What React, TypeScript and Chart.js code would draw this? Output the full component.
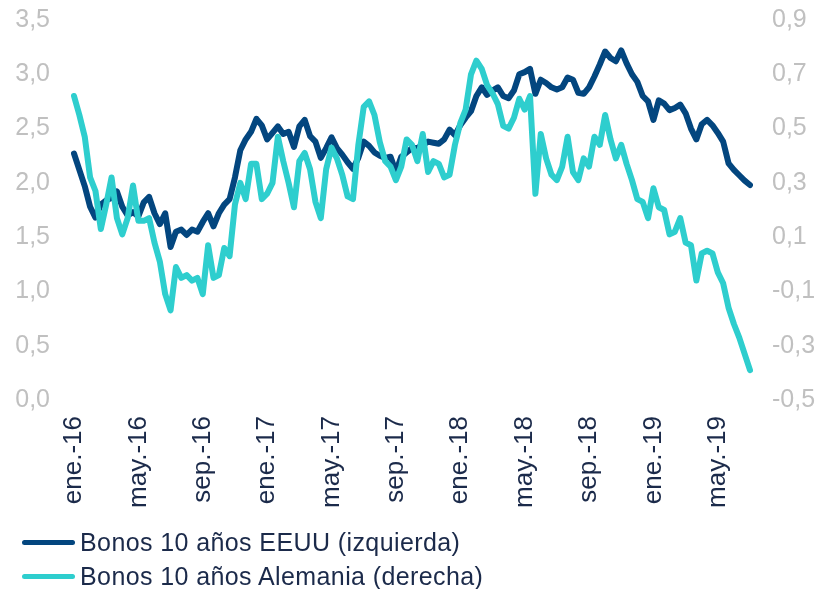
import React, { useEffect, useRef } from "react";
import { Chart, registerables } from "chart.js";

Chart.register(...registerables);

const monthNames = ["ene.", "feb.", "mar.", "abr.", "may.", "jun.", "jul.", "ago.", "sep.", "oct.", "nov.", "dic."];
const startYear = 16;
const pointsPerMonth = 3;
const tickEvery = 12; // every 4 months

const usYield = [
  2.27, 2.12, 1.97, 1.78, 1.68, 1.80, 1.84, 1.86, 1.92, 1.78,
  1.70, 1.73, 1.69, 1.82, 1.87, 1.72, 1.62, 1.72, 1.41, 1.55,
  1.57, 1.52, 1.57, 1.55, 1.64, 1.72, 1.60, 1.72, 1.80, 1.85,
  2.05, 2.30, 2.40, 2.47, 2.59, 2.53, 2.40, 2.46, 2.52, 2.45,
  2.47, 2.33, 2.52, 2.58, 2.43, 2.38, 2.23, 2.32, 2.42, 2.32,
  2.26, 2.19, 2.13, 2.23, 2.38, 2.34, 2.28, 2.25, 2.23, 2.24,
  2.10, 2.24, 2.28, 2.32, 2.32, 2.35, 2.38, 2.37, 2.36, 2.40,
  2.49, 2.44, 2.53, 2.60, 2.66, 2.80, 2.88, 2.81, 2.85, 2.88,
  2.80, 2.78, 2.85, 3.00, 3.02, 3.05, 2.82, 2.95, 2.92, 2.88,
  2.86, 2.88, 2.97, 2.95, 2.83, 2.82, 2.88, 2.98, 3.09, 3.21,
  3.15, 3.12, 3.22, 3.10, 3.00, 2.93, 2.80, 2.75, 2.58, 2.76,
  2.73, 2.67, 2.69, 2.72, 2.64, 2.50, 2.40, 2.54, 2.58, 2.53,
  2.46, 2.38, 2.18, 2.12, 2.07, 2.02, 1.98,
];

const deYield = [
  0.62, 0.55, 0.47, 0.32, 0.27, 0.13, 0.22, 0.32, 0.17, 0.11,
  0.17, 0.29, 0.16, 0.16, 0.17, 0.08, 0.01, -0.11, -0.17, -0.01,
  -0.05, -0.04, -0.06, -0.05, -0.11, 0.07, -0.05, -0.04, 0.06, 0.03,
  0.22, 0.30, 0.24, 0.37, 0.37, 0.24, 0.26, 0.30, 0.47, 0.38,
  0.30, 0.21, 0.38, 0.41, 0.35, 0.23, 0.17, 0.35, 0.43, 0.39,
  0.33, 0.25, 0.24, 0.44, 0.58, 0.60, 0.55, 0.45, 0.38, 0.36,
  0.31, 0.36, 0.46, 0.44, 0.38, 0.48, 0.34, 0.38, 0.37, 0.32,
  0.33, 0.44, 0.52, 0.57, 0.70, 0.75, 0.72, 0.66, 0.63, 0.59,
  0.51, 0.50, 0.54, 0.61, 0.57, 0.62, 0.26, 0.48, 0.39, 0.33,
  0.31, 0.36, 0.47, 0.34, 0.31, 0.39, 0.36, 0.47, 0.44, 0.55,
  0.46, 0.39, 0.44, 0.37, 0.31, 0.24, 0.23, 0.17, 0.28, 0.21,
  0.20, 0.11, 0.12, 0.17, 0.08, 0.07, -0.06, 0.04, 0.05, 0.04,
  -0.03, -0.07, -0.16, -0.22, -0.27, -0.33, -0.39,
];

const seriesNames = ["Bonos 10 años EEUU (izquierda)", "Bonos 10 años Alemania (derecha)"];
const seriesColors = ["#03467f", "#2ecece"];

const labels = usYield.map((_, i) => {
  const m = Math.floor(i / pointsPerMonth);
  return `${monthNames[m % 12]}-${startYear + Math.floor(m / 12)}`;
});

const FONT = "'Liberation Sans', Arial, sans-serif";
const fmt = (v: number) => Number(v).toFixed(1).replace(".", ",");

const SHIFT = 19;
const CW = 817;
const CH = 589 + SHIFT;

export default function App() {
  const ref = useRef<HTMLCanvasElement | null>(null);

  useEffect(() => {
    if (!ref.current) return;
    const chart = new Chart(ref.current, {
      type: "line",
      data: {
        labels,
        datasets: [
          {
            label: seriesNames[1],
            data: deYield,
            yAxisID: "yR",
            borderColor: seriesColors[1],
            backgroundColor: seriesColors[1],
            borderWidth: 6,
            pointRadius: 0,
            tension: 0,
            borderJoinStyle: "round",
            borderCapStyle: "round",
          },
          {
            label: seriesNames[0],
            data: usYield,
            yAxisID: "yL",
            borderColor: seriesColors[0],
            backgroundColor: seriesColors[0],
            borderWidth: 6,
            pointRadius: 0,
            tension: 0,
            borderJoinStyle: "round",
            borderCapStyle: "round",
          },
        ],
      },
      options: {
        animation: false,
        responsive: false,
        devicePixelRatio: 1,
        layout: { padding: { top: 0, bottom: 69, left: 0, right: 0 } },
        plugins: { legend: { display: false }, tooltip: { enabled: false } },
        scales: {
          x: {
            type: "category",
            grid: { display: false, drawTicks: false },
            border: { display: false },
            afterFit: (s: any) => { s.height = 120; },
            ticks: {
              autoSkip: false,
              minRotation: 90,
              maxRotation: 90,
              padding: 16,
              color: "#1b2a4a",
              font: { family: FONT, size: 26 },
              callback: (_v: any, i: number) => (i % tickEvery === 0 ? labels[i] : null),
            },
          },
          yL: {
            position: "left",
            min: 0,
            max: 3.5,
            grid: { display: false, drawTicks: false },
            border: { display: false },
            afterFit: (s: any) => { s.width = 74; },
            ticks: {
              stepSize: 0.5,
              padding: 24,
              color: "#c0c0c0",
              font: { family: FONT, size: 25 },
              callback: (v: any) => fmt(v),
            },
          },
          yR: {
            position: "right",
            min: -0.5,
            max: 0.9,
            grid: { display: false, drawTicks: false },
            border: { display: false },
            afterFit: (s: any) => { s.width = 67; },
            ticks: {
              stepSize: 0.2,
              padding: 22,
              color: "#c0c0c0",
              font: { family: FONT, size: 25 },
              callback: (v: any) => fmt(v),
            },
          },
        },
      },
    });
    return () => chart.destroy();
  }, []);

  return (
    <div style={{ position: "fixed", left: 0, top: 0, width: 817, height: 589, background: "#fff", overflow: "hidden" }}>
      <canvas ref={ref} width={CW} height={CH} style={{ position: "absolute", left: 0, top: -SHIFT, width: CW, height: CH }} />
      {seriesNames.map((name, i) => (
        <div
          key={name}
          style={{
            position: "absolute",
            left: 22,
            top: 542 + i * 34 - 15,
            height: 30,
            display: "flex",
            alignItems: "center",
            fontFamily: FONT,
            fontSize: 25,
            letterSpacing: 0.4,
            color: "#1b2a4a",
            whiteSpace: "nowrap",
          }}
        >
          <span style={{ display: "inline-block", width: 53, height: 5, borderRadius: 3, background: seriesColors[i], marginRight: 5 }} />
          <span>{name}</span>
        </div>
      ))}
    </div>
  );
}
